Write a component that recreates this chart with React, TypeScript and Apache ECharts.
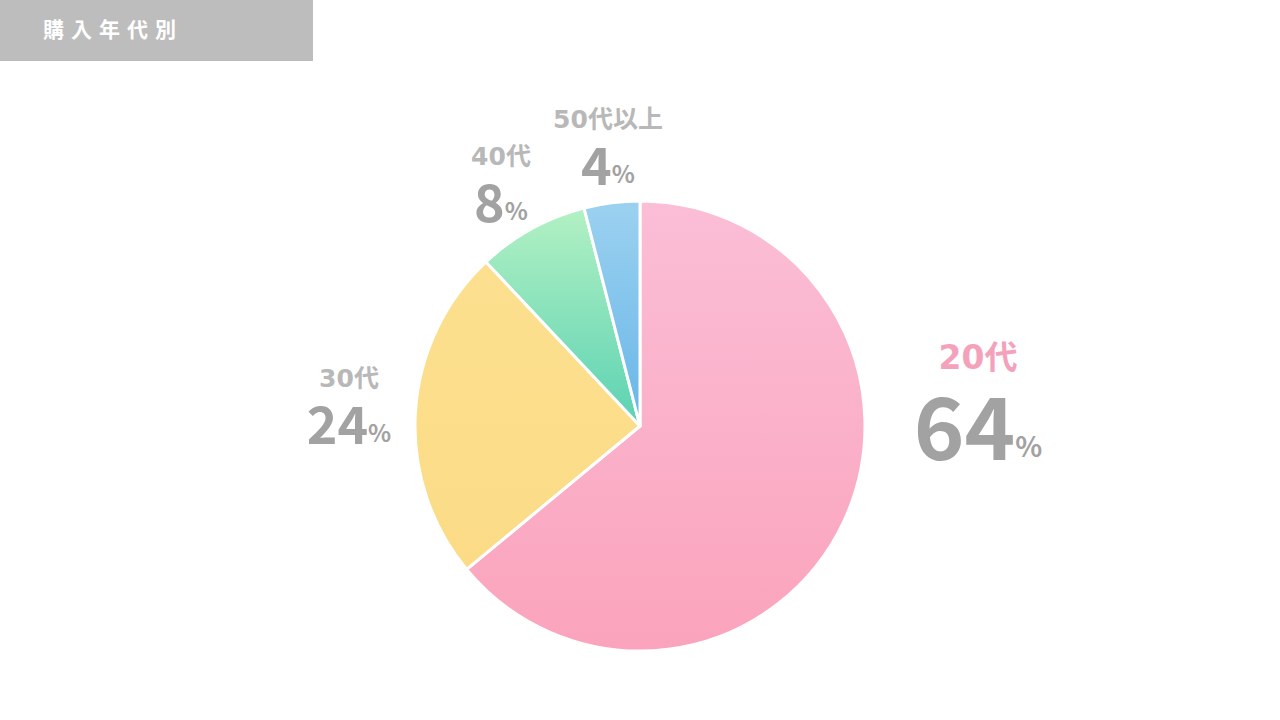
import React, { useEffect, useRef } from "react";
import * as echarts from "echarts";

const categories = ["20代", "30代", "40代", "50代以上"];
const values = [64, 24, 8, 4];
const title = "購入年代別";

const gradients = [
  ["#FABED6", "#FBA3BC"],
  ["#FCE08F", "#FBDB86"],
  ["#B3F1C3", "#5BD2B3"],
  ["#9CD1F0", "#68B6E8"],
];
// label anchor (center of label block) in px
const labelPos = [
  [978, 400],
  [349, 404],
  [501, 182],
  [608, 145],
];

const FONT = '"Noto Sans CJK JP", "Noto Sans", sans-serif';
const FONT_SMALL = '"DejaVu Sans", "Noto Sans CJK JP", sans-serif';

export default function App() {
  const ref = useRef<HTMLDivElement>(null);
  useEffect(() => {
    if (!ref.current) return;
    const chart = echarts.init(ref.current, null, { renderer: "svg" });
    const data = categories.map((name, i) => {
      const big = i === 0;
      return {
        name,
        value: values[i],
        itemStyle: {
          color: new echarts.graphic.LinearGradient(0, 0, 0, 1, [
            { offset: 0, color: gradients[i][0] },
            { offset: 1, color: gradients[i][1] },
          ]),
        },
        label: {
          rich: {
            n: {
              fontFamily: FONT_SMALL,
              fontWeight: "bold",
              fontSize: big ? 33 : 25,
              lineHeight: big ? 44 : 34,
              color: big ? "#F4A2BC" : "#B8B8B8",
              align: "center",
            },
            v: {
              fontFamily: FONT,
              fontWeight: "bold",
              fontSize: big ? 86 : 52,
              lineHeight: big ? 86 : 52,
              color: "#A2A2A2",
            },
            p: {
              fontFamily: FONT,
              fontWeight: "bold",
              fontSize: big ? 28 : 24,
              lineHeight: big ? 28 : 24,
              color: "#A2A2A2",
              verticalAlign: "bottom",
              padding: big ? [0, 0, 6, 0] : [0, 0, 4, 0],
            },
          },
        },
      };
    });
    chart.setOption({
      animation: false,
      backgroundColor: "#ffffff",
      graphic: [
        {
          type: "rect",
          shape: { x: 0, y: 0, width: 313, height: 61 },
          style: { fill: "#BDBDBD" },
        },
        ...title.split("").map((ch, i) => ({
          type: "text",
          x: 43 + i * 28,
          y: 28,
          style: {
            text: ch,
            fill: "#ffffff",
            font: `bold 21px ${FONT}`,
            verticalAlign: "middle",
          },
        })),
      ],
      series: [
        {
          type: "pie",
          center: [640, 426],
          radius: 225,
          startAngle: 90,
          clockwise: true,
          silent: true,
          itemStyle: { borderColor: "#ffffff", borderWidth: 3 },
          label: {
            show: true,
            position: "outside",
            formatter: (p: any) => `{n|${p.name}}\n{v|${p.value}}{p|%}`,
            align: "center",
          },
          labelLine: { show: false },
          labelLayout: (params: any) => {
            const pos = labelPos[params.dataIndex];
            return {
              x: pos[0],
              y: pos[1],
              align: "center",
              verticalAlign: "middle",
            };
          },
          data,
        },
      ],
    });
    return () => chart.dispose();
  }, []);
  return (
    <div
      ref={ref}
      style={{ position: "fixed", left: 0, top: 0, width: 1280, height: 720 }}
    />
  );
}
